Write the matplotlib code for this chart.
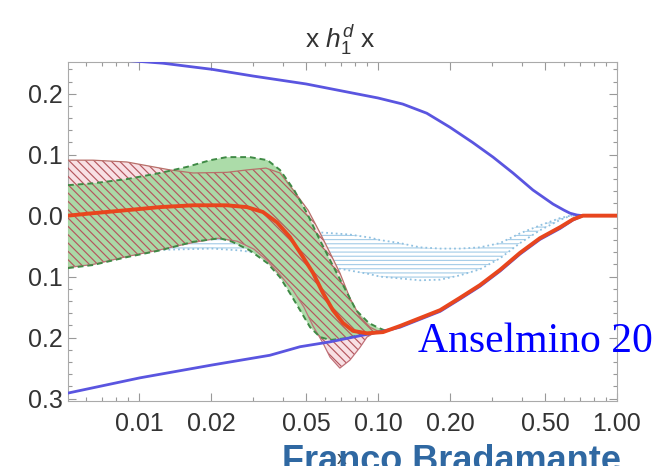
import matplotlib.pyplot as plt
import numpy as np
from matplotlib.ticker import FixedLocator, FixedFormatter, MultipleLocator

plt.rcParams['font.family'] = ['Liberation Sans', 'DejaVu Sans']
plt.rcParams['mathtext.fontset'] = 'custom'
plt.rcParams['mathtext.rm'] = 'Liberation Sans'
plt.rcParams['mathtext.it'] = 'Liberation Sans:italic'
plt.rcParams['hatch.linewidth'] = 0.85

# central curve (red)
x_c = [0.00505, 0.00642, 0.00891, 0.01225, 0.01683, 0.0233, 0.0283, 0.033, 0.0378, 0.0428,
       0.0486, 0.0535, 0.0589, 0.0648, 0.0714, 0.0786, 0.090, 0.105, 0.1236, 0.150,
       0.182, 0.220, 0.267, 0.324, 0.393, 0.476, 0.578, 0.655, 0.72, 1.0]
y_c = [0.0, 0.004, 0.009, 0.014, 0.017, 0.017, 0.014, 0.006, -0.011, -0.035,
       -0.068, -0.094, -0.127, -0.155, -0.176, -0.189, -0.193, -0.191, -0.181, -0.168,
       -0.155, -0.135, -0.114, -0.089, -0.061, -0.037, -0.019, -0.006, 0.0, 0.0]

# positivity bounds (blue)
x_bu = [0.00505, 0.0126, 0.0202, 0.030, 0.050, 0.0785, 0.100, 0.127, 0.160, 0.200,
        0.249, 0.303, 0.367, 0.445, 0.540, 0.600, 0.636, 0.68, 0.72, 1.0]
y_bu = [0.262, 0.250, 0.240, 0.229, 0.216, 0.201, 0.193, 0.183, 0.168, 0.145,
        0.120, 0.096, 0.070, 0.042, 0.019, 0.009, 0.004, 0.001, 0.0, 0.0]
x_bl = [0.00505, 0.0101, 0.0202, 0.0353, 0.0472, 0.063, 0.0841, 0.1124, 0.1236, 0.150,
        0.182, 0.220, 0.267, 0.324, 0.393, 0.476, 0.578, 0.655, 0.72, 1.0]
y_bl = [-0.291, -0.266, -0.245, -0.229, -0.215, -0.207, -0.197, -0.187, -0.183, -0.170,
        -0.157, -0.137, -0.116, -0.091, -0.063, -0.039, -0.021, -0.007, 0.0, 0.0]

# red hatched band
x_ru = [0.00505, 0.00642, 0.00891, 0.0115, 0.0135, 0.01683, 0.0233, 0.0283, 0.0340, 0.0389,
        0.0442, 0.0510, 0.0572, 0.0630, 0.0693, 0.0763, 0.0841, 0.0926, 0.102]
y_ru = [0.091, 0.091, 0.088, 0.080, 0.075, 0.070, 0.071, 0.075, 0.078, 0.070,
        0.042, 0.009, -0.028, -0.061, -0.094, -0.135, -0.166, -0.183, -0.191]
x_rl = [0.00505, 0.00642, 0.00891, 0.01225, 0.01683, 0.0215, 0.0258, 0.0303, 0.0345, 0.0389,
        0.0442, 0.049, 0.0535, 0.0589, 0.063, 0.0693, 0.0763, 0.0841, 0.090, 0.0960, 0.102]
y_rl = [-0.085, -0.080, -0.067, -0.056, -0.044, -0.037, -0.042, -0.055, -0.074, -0.097,
        -0.123, -0.150, -0.181, -0.209, -0.232, -0.250, -0.237, -0.216, -0.199, -0.193, -0.191]

# green band
x_gu = [0.00505, 0.00642, 0.00891, 0.01225, 0.0159, 0.0199, 0.0233, 0.0291, 0.0345, 0.0389,
        0.0446, 0.0505, 0.0563, 0.0640, 0.0721, 0.0810, 0.0915, 0.1005, 0.108]
y_gu = [0.050, 0.053, 0.060, 0.070, 0.080, 0.091, 0.096, 0.096, 0.091, 0.075,
        0.042, 0.004, -0.035, -0.078, -0.117, -0.155, -0.176, -0.184, -0.189]
x_gl = [0.00505, 0.00642, 0.00891, 0.01225, 0.01683, 0.0218, 0.0246, 0.0291, 0.0345, 0.0389,
        0.0428, 0.0472, 0.0520, 0.0572, 0.0630, 0.0734, 0.0842, 0.0975, 0.108]
y_gl = [-0.086, -0.081, -0.068, -0.057, -0.043, -0.037, -0.043, -0.057, -0.078, -0.101,
        -0.127, -0.155, -0.183, -0.199, -0.204, -0.201, -0.196, -0.191, -0.189]

# light blue dotted band
x_l = [0.00505, 0.0101, 0.0202, 0.0264, 0.0353, 0.0472, 0.0600, 0.0763, 0.0926, 0.102,
       0.1236, 0.150, 0.182, 0.220, 0.267, 0.324, 0.393, 0.476, 0.578, 0.640, 0.69]
y_lu = [-0.012, -0.015, -0.020, -0.022, -0.024, -0.026, -0.028, -0.031, -0.036, -0.040,
        -0.045, -0.052, -0.054, -0.054, -0.052, -0.045, -0.029, -0.016, -0.004, 0.0, 0.0]
y_ll = [-0.057, -0.057, -0.054, -0.057, -0.064, -0.074, -0.083, -0.090, -0.096, -0.100,
        -0.103, -0.106, -0.105, -0.098, -0.088, -0.070, -0.045, -0.024, -0.007, 0.0, 0.0]

x_ticks = [0.01, 0.02, 0.05, 0.1, 0.2, 0.5, 1.0]
x_labels = ['0.01', '0.02', '0.05', '0.10', '0.20', '0.50', '1.00']
x_minor = [0.005, 0.006, 0.007, 0.008, 0.009, 0.03, 0.04, 0.06, 0.07, 0.08, 0.09,
           0.3, 0.4, 0.6, 0.7, 0.8, 0.9]
y_ticks = [0.2, 0.1, 0.0, -0.1, -0.2, -0.3]
y_labels = ['0.2', '0.1', '0.0', '0.1', '0.2', '0.3']

fig = plt.figure(figsize=(6.58, 4.66), dpi=100)
ax = fig.add_axes([68 / 658, 1 - 401 / 466, 549 / 658, 339 / 466])
ax.set_xscale('log')

# blue dotted band
ax.fill_between(x_l, y_ll, y_lu, facecolor='none', edgecolor='#a8cee8', hatch='----',
                linewidth=0, zorder=1)
ax.plot(x_l, y_lu, ':', color='#8fc0e0', lw=1.3, zorder=1)
ax.plot(x_l, y_ll, ':', color='#8fc0e0', lw=1.3, zorder=1)

# red band: pink fill
rx = np.concatenate([x_ru, x_rl[::-1]])
ry = np.concatenate([y_ru, y_rl[::-1]])
ax.fill(rx, ry, facecolor='#f8e0e4', edgecolor='none', zorder=2)

# green band
gx = np.concatenate([x_gu, x_gl[::-1]])
gy = np.concatenate([y_gu, y_gl[::-1]])
ax.fill(gx, gy, facecolor='#a3d9a0', edgecolor='none', alpha=0.9, zorder=3)

# red hatch over everything
ax.fill(rx, ry, facecolor='none', edgecolor='#b5565e', hatch='\\\\\\\\', linewidth=0, zorder=4)
ax.plot(x_ru, y_ru, color='#b8706a', lw=0.9, zorder=5)
ax.plot(x_rl, y_rl, color='#c07078', lw=0.9, zorder=5)
ax.plot(x_gu, y_gu, '--', color='#3f8a45', lw=1.4, dashes=(3, 2), zorder=5)
ax.plot(x_gl, y_gl, '--', color='#3f8a45', lw=1.4, dashes=(3, 2), zorder=5)

# bounds and central curve
ax.plot(x_bu, y_bu, color='#5a55e0', lw=2.0, zorder=6)
ax.plot(x_bl, y_bl, color='#5a55e0', lw=2.0, zorder=6)
ax.plot(x_c, y_c, color='#e8461e', lw=2.8, zorder=7)

ax.set_xlim(0.00505, 1.0)
ax.set_ylim(-0.304, 0.252)
ax.xaxis.set_major_locator(FixedLocator(x_ticks))
ax.xaxis.set_major_formatter(FixedFormatter(x_labels))
ax.xaxis.set_minor_locator(FixedLocator(x_minor))
ax.xaxis.set_minor_formatter(FixedFormatter([''] * len(x_minor)))
ax.yaxis.set_major_locator(FixedLocator(y_ticks))
ax.yaxis.set_major_formatter(FixedFormatter(y_labels))
ax.yaxis.set_minor_locator(MultipleLocator(0.02))

ax.tick_params(which='both', direction='in', top=True, right=True, color='#999999',
               width=0.8, labelcolor='#333333', labelsize=18)
ax.tick_params(which='major', length=6)
ax.tick_params(which='minor', length=3)
ax.tick_params(axis='x', pad=8)
ax.tick_params(axis='y', pad=4)
for s in ax.spines.values():
    s.set_color('#aaaaaa')
    s.set_linewidth(0.8)

fig.text(340 / 658, 1 - 48 / 466, r'x $h_1^d$ x', ha='center', va='baseline',
         fontsize=19, color='#333333')
fig.text(342 / 658, 1 - 459 / 466, 'x', ha='center', va='center', fontsize=14,
         color='#444444')
fig.text(418 / 658, 1 - 352 / 466, 'Anselmino 20', ha='left', va='baseline',
         fontsize=30, family='Liberation Serif', color='#0000ff')
fig.text(282 / 658, 1 - 471 / 466, 'Franco Bradamante', ha='left', va='baseline',
         fontsize=26, fontweight='bold', color='#2f68a2')

fig.savefig('out.png', dpi=100)
